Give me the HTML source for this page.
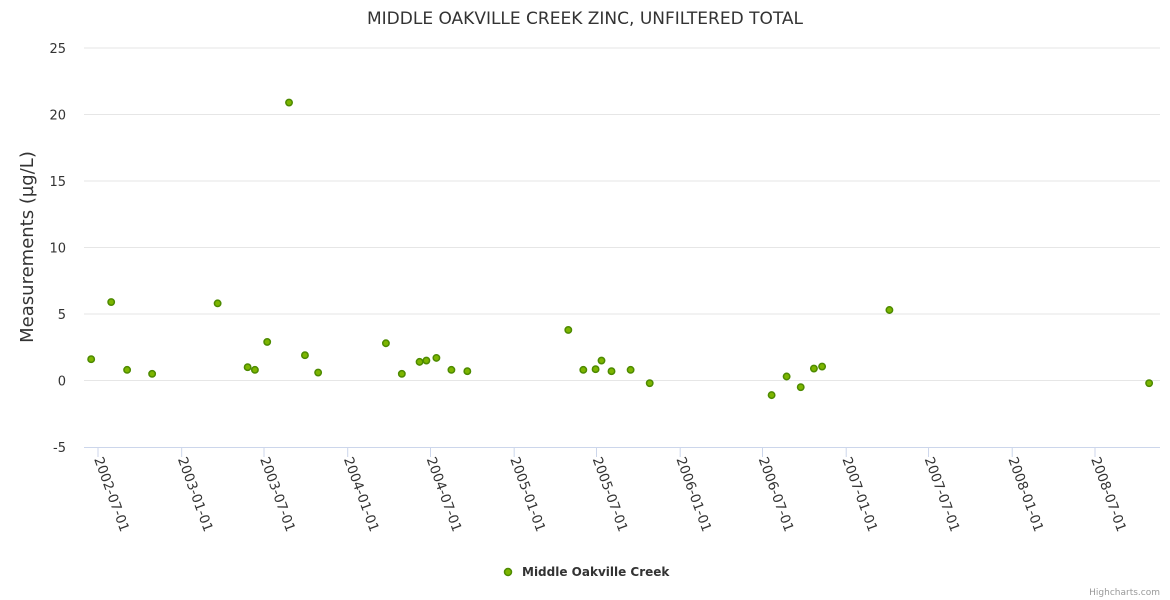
<!DOCTYPE html>
<html><head><meta charset="utf-8"><style>
body{margin:0;background:#fff;}
svg{display:block;font-family:"DejaVu Sans","Liberation Sans",sans-serif;}
</style></head><body>
<svg id="chart" width="1170" height="600">
<text x="585" y="24" text-anchor="middle" font-size="17" fill="#333">MIDDLE OAKVILLE CREEK ZINC, UNFILTERED TOTAL</text>
<text transform="translate(33,247) rotate(-90)" text-anchor="middle" font-size="18" fill="#333">Measurements (µg/L)</text>
<g id="grid"></g><g id="xaxis"></g><g id="pts"></g>
<g>
<circle cx="508" cy="572" r="3.5" fill="#7cb500" stroke="#4d8a00" stroke-width="1.5"/>
<text x="522" y="576" font-size="12" font-weight="bold" fill="#333">Middle Oakville Creek</text>
</g>
<text x="1160" y="595" text-anchor="end" font-size="9" fill="#999">Highcharts.com</text>
</svg>
<script>
const yTicks=[-5,0,5,10,15,20,25];
const xTicks=["2002-07-01","2003-01-01","2003-07-01","2004-01-01","2004-07-01","2005-01-01","2005-07-01","2006-01-01","2006-07-01","2007-01-01","2007-07-01","2008-01-01","2008-07-01"];
const dates=["2002-06-16","2002-07-30","2002-09-03","2002-10-28","2003-03-21","2003-05-26","2003-06-11","2003-07-08","2003-08-25","2003-09-29","2003-10-28","2004-03-25","2004-04-29","2004-06-07","2004-06-22","2004-07-14","2004-08-16","2004-09-20","2005-04-30","2005-06-02","2005-06-29","2005-07-12","2005-08-03","2005-09-14","2005-10-26","2006-07-21","2006-08-23","2006-09-23","2006-10-22","2006-11-09","2007-04-06","2008-10-28"];
const values=[1.6,5.9,0.8,0.5,5.8,1.0,0.8,2.9,20.9,1.9,0.6,2.8,0.5,1.4,1.5,1.7,0.8,0.7,3.8,0.8,0.85,1.5,0.7,0.8,-0.2,-1.1,0.3,-0.5,0.9,1.05,5.3,-0.2];
const NS="http://www.w3.org/2000/svg";
const t0=Date.parse("2002-07-01"),t1=Date.parse("2008-07-01");
const X=d=>98+(Date.parse(d)-t0)/(t1-t0)*997;
const Y=v=>447-(v+5)/30*399;
function mk(tag,attrs,parent){const e=document.createElementNS(NS,tag);for(const k in attrs)e.setAttribute(k,attrs[k]);parent.appendChild(e);return e;}
const grid=document.getElementById('grid'),xa=document.getElementById('xaxis'),pts=document.getElementById('pts');
yTicks.forEach(v=>{
 if(v>-5){const l=mk('line',{x1:84,x2:1160,y1:Y(v),y2:Y(v),stroke:'#e6e6e6'},grid);
 
 }
 const t=mk('text',{x:66,y:Y(v)+5,'text-anchor':'end','font-size':13,fill:'#333'},grid);t.textContent=v;
 
 
});
const ax=mk('line',{x1:84,x2:1160,y1:447.5,y2:447.5,stroke:'#ccd6eb'},xa);


xTicks.forEach(d=>{
 const x=X(d);
 const tk=mk('line',{x1:x,x2:x,y1:447,y2:457,stroke:'#ccd6eb'},xa);
 
 
 const t=mk('text',{transform:`translate(${x-4},${459}) rotate(70)`,'font-size':13.5,fill:'#333'},xa);t.textContent=d;
 
 
});
dates.forEach((d,i)=>{
 const c=mk('circle',{cx:X(d),cy:Y(values[i]),r:3.2,fill:'#7cb500',stroke:'#4d8a00','stroke-width':1.5},pts);
 
 
});
</script>
</body></html>
